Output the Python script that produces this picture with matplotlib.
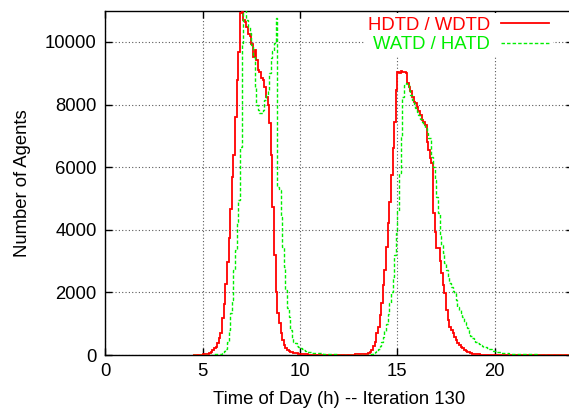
import numpy as np
import matplotlib
matplotlib.use("Agg")
import matplotlib.pyplot as plt

plt.rcParams['font.family'] = ['Liberation Sans', 'DejaVu Sans']

# 5-minute bins, first bin starts at 4.5 h
bin_hours = 5 / 60
first_bin_h = 4.5

red_label = "HDTD / WDTD"
red_counts = [
    3, 5, 8, 10, 12, 15,
    20, 25, 30, 35, 70, 105, 160, 210, 265, 373, 533, 714,
    1190, 1620, 2270, 2960, 3730, 4670, 5680, 6400, 7610, 8790, 9670, 10930,
    10950, 10700, 10650, 10490, 10270, 10200, 9950, 9530, 9740, 9440, 9100, 9050,
    8840, 8790, 8570, 8250, 8000, 7400, 6390, 4740, 3195, 2020, 1330, 1010,
    693, 480, 320, 214, 160, 128, 95, 80, 70, 60, 50, 42,
    35, 30, 25, 20, 16, 13, 10, 9, 8, 7, 6, 6,
    5, 5, 5, 4, 4, 4, 4, 4, 4, 4, 5, 5,
    5, 5, 6, 6, 7, 8, 9, 10, 12, 14, 17, 20,
    22, 25, 28, 30, 32, 35, 55, 80, 160, 290, 426, 693,
    905, 1278, 1650, 2236, 2716, 3460, 4207, 4900, 5750, 6600, 7450, 8466,
    9050, 9000, 9080, 9050, 9050, 9000, 8680, 8570, 8450, 8250, 8090, 8050,
    7930, 7800, 7670, 7508, 7450, 7348, 6815, 6550, 6300, 6125, 4527, 3940,
    3418, 3418, 3000, 2610, 2236, 1970, 1438, 1118, 905, 800, 693, 586,
    480, 373, 320, 266, 210, 160, 130, 106, 80, 60, 45, 35,
    28, 22, 18, 15, 12, 10, 8, 7, 6, 6, 5, 5,
    5, 4, 4, 4, 4, 3, 3, 3, 3, 3, 3, 3,
    3, 3, 3, 2, 2, 2, 2, 2, 2, 2, 2, 2,
    2, 2, 2, 2, 2, 2, 2, 1, 1, 1, 1, 1,
    1, 1, 1, 1, 1, 1, 1, 1, 1, 1, 1, 1,
]

green_label = "WATD / HATD"
green_counts = [
    2, 3, 4, 5, 6, 7,
    8, 9, 10, 11, 12, 14, 15, 18, 22, 28, 35, 45,
    60, 120, 200, 425, 800, 1330, 1760, 2720, 3360, 4260, 4950, 6650,
    9960, 11500, 11300, 10700, 10490, 10280, 9900, 9530, 8520, 8000, 7830, 7720,
    7720, 7830, 8150, 8300, 8470, 9000, 9480, 9700, 9960, 10760, 5380, 5270,
    4420, 3460, 2820, 2077, 1500, 1224, 800, 532, 420, 374, 300, 265,
    220, 182, 150, 128, 110, 95, 86, 78, 70, 64, 60, 56,
    53, 50, 46, 42, 38, 34, 30, 26, 22, 19, 16, 14,
    12, 10, 9, 8, 7, 6, 6, 5, 5, 5, 5, 5,
    6, 7, 8, 9, 10, 12, 15, 25, 40, 60, 90, 130,
    200, 290, 400, 560, 760, 1000, 1300, 1650, 2000, 2500, 3200, 3900,
    4600, 5800, 6975, 8250, 8626, 8690, 8650, 8466, 8306, 8147, 8019, 7900,
    7773, 7668, 7550, 7454, 7350, 7243, 7100, 6923, 6923, 6335, 6000, 5590,
    5060, 4540, 3800, 3500, 3260, 2930, 2700, 2500, 2300, 2180, 2050, 1970,
    1757, 1544, 1430, 1330, 1224, 1050, 958, 850, 693, 600, 532, 470,
    426, 390, 350, 320, 290, 266, 240, 220, 200, 182, 160, 140,
    125, 107, 95, 85, 75, 68, 60, 53, 48, 44, 40, 37,
    34, 32, 30, 28, 26, 24, 22, 21, 20, 19, 18, 17,
    16, 16, 15, 15, 14, 14, 13, 13, 12, 12, 11, 11,
    10, 10, 10, 9, 9, 9, 8, 8, 8, 7, 7, 7,
]

x_ticks = [0, 5, 10, 15, 20]
y_ticks = [0, 2000, 4000, 6000, 8000, 10000]
x_label = "Time of Day (h) -- Iteration 130"
y_label = "Number of Agents"

W, H = 569, 416
fig = plt.figure(figsize=(W / 100, H / 100), dpi=100)
left_px, right_px, top_px, bottom_px = 105.2, 572.7, 10.7, 355.0
ax = fig.add_axes([left_px / W, 1 - bottom_px / H,
                   (right_px - left_px) / W, (bottom_px - top_px) / H])

def edges_for(counts):
    return first_bin_h + np.arange(len(counts) + 1) * bin_hours

ax.stairs(red_counts, edges_for(red_counts), color='#ff0000', lw=1.3,
          baseline=None, label=red_label, zorder=3)
ax.stairs(green_counts, edges_for(green_counts), color='#00ee00', lw=1.0,
          baseline=None, linestyle=(0, (2.5, 1.5)), label=green_label, zorder=4)

ax.set_xlim(0, 24)
ax.set_ylim(0, 11000)
ax.set_xticks(x_ticks)
ax.set_yticks(y_ticks)
ax.tick_params(direction='in', top=True, right=True, length=5, width=1,
               labelsize=13.3, colors='black')
ax.tick_params(axis='x', pad=6)
ax.tick_params(axis='y', pad=6)
ax.grid(True, color='0.35', linestyle=(0, (1, 2)), linewidth=0.8)
for s in ax.spines.values():
    s.set_linewidth(1.0)

ax.set_xlabel(x_label, fontsize=13.3, labelpad=8)
ax.set_ylabel(y_label, fontsize=13.3, labelpad=10)

leg = ax.legend(loc='upper right', bbox_to_anchor=(0.957, 0.993), frameon=True,
                facecolor='white', edgecolor='none', framealpha=1.0, fancybox=False,
                markerfirst=False, labelcolor='linecolor', fontsize=13.3,
                handlelength=2.6, handletextpad=0.6, labelspacing=0.12,
                borderaxespad=0.0, borderpad=0.2)
leg.set_zorder(10)

fig.savefig("out.png", dpi=100)
